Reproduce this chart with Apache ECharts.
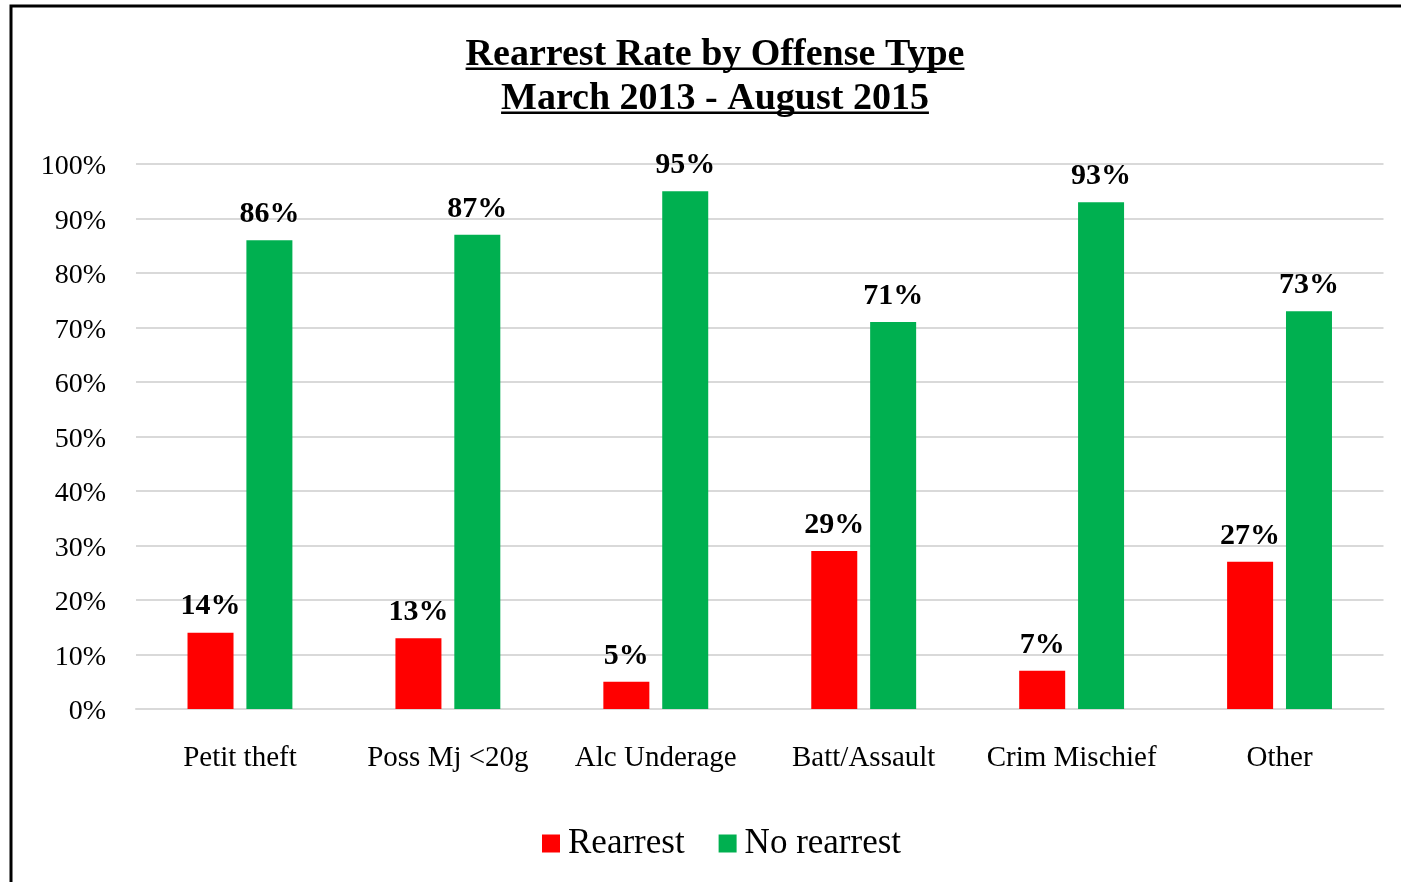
<!DOCTYPE html>
<html>
<head>
<meta charset="utf-8">
<script src="https://cdn.jsdelivr.net/npm/echarts@6/dist/echarts.min.js"></script>
<style>
  html, body { margin: 0; padding: 0; background: #fff; }
  #chart { width: 1401px; height: 882px; }
</style>
</head>
<body>
<div id="chart"></div>
<script>
// Offense categories and rates (percent)
const categories = ['Petit theft', 'Poss Mj <20g', 'Alc Underage', 'Batt/Assault', 'Crim Mischief', 'Other'];
const rearrest = [14, 13, 5, 29, 7, 27];
const noRearrest = [86, 87, 95, 71, 93, 73];
const titleLines = ['Rearrest Rate by Offense Type', 'March 2013 - August 2015'];
const seriesNames = ['Rearrest', 'No rearrest'];

const SERIF = '"Liberation Serif", "Times New Roman", serif';
const TITLE_SIZE = 38;
const TITLE_FONT = 'bold ' + TITLE_SIZE + 'px ' + SERIF;

// measure title widths for the underlines
const ctx = document.createElement('canvas').getContext('2d');
ctx.font = TITLE_FONT;

const centerX = 715;
const titleGraphics = [];
titleLines.forEach((line, i) => {
  const baseline = 65 + i * 44;
  const w = ctx.measureText(line).width;
  titleGraphics.push({
    type: 'text',
    x: centerX, y: baseline - 28.5,
    style: {
      text: line,
      font: TITLE_FONT,
      fill: '#000',
      align: 'center'
    }
  });
  titleGraphics.push({
    type: 'rect',
    shape: { x: centerX - w / 2, y: baseline + 2.5, width: w, height: 2.5 },
    style: { fill: '#000' }
  });
});

const chart = echarts.init(document.getElementById('chart'), null, { renderer: 'canvas' });

const labelStyle = {
  show: true,
  position: 'top',
  distance: 11,
  formatter: '{c}%',
  fontFamily: SERIF,
  fontWeight: 'bold',
  fontSize: 30,
  color: '#000'
};

chart.setOption({
  animation: false,
  backgroundColor: '#fff',
  textStyle: { fontFamily: SERIF },
  graphic: [
    {
      type: 'polyline',
      shape: { points: [[11, 900], [11, 6], [1420, 6]] },
      style: { stroke: '#000', lineWidth: 3, fill: null }
    }
  ].concat(titleGraphics),
  grid: { left: 136, right: 17.5, top: 164, bottom: 173, containLabel: false },
  legend: {
    bottom: 16,
    left: 537,
    itemWidth: 18,
    itemHeight: 18,
    itemGap: 34,
    icon: 'rect',
    textStyle: { fontFamily: SERIF, fontSize: 35, color: '#000', padding: [0, 0, 0, 3] },
    data: seriesNames
  },
  xAxis: {
    type: 'category',
    data: categories,
    axisLine: { lineStyle: { color: '#d9d9d9', width: 2 } },
    axisTick: { show: false },
    axisLabel: { fontFamily: SERIF, fontSize: 29, color: '#000', margin: 35, interval: 0 }
  },
  yAxis: {
    type: 'value',
    min: 0, max: 100, interval: 10,
    axisLine: { show: false },
    axisTick: { show: false },
    splitLine: { lineStyle: { color: '#d9d9d9', width: 2 } },
    axisLabel: {
      color: '#000',
      margin: 30,
      formatter: '{v|{value}%}',
      rich: { v: { fontFamily: SERIF, fontSize: 28, color: '#000', padding: [6, 0, 0, 0] } }
    }
  },
  series: [
    {
      name: seriesNames[0], type: 'bar', data: rearrest,
      barWidth: 46, barGap: '28%',
      itemStyle: { color: '#ff0000' },
      label: labelStyle
    },
    {
      name: seriesNames[1], type: 'bar', data: noRearrest,
      barWidth: 46, barGap: '28%',
      itemStyle: { color: '#00b050' },
      label: labelStyle
    }
  ]
});
</script>
</body>
</html>
